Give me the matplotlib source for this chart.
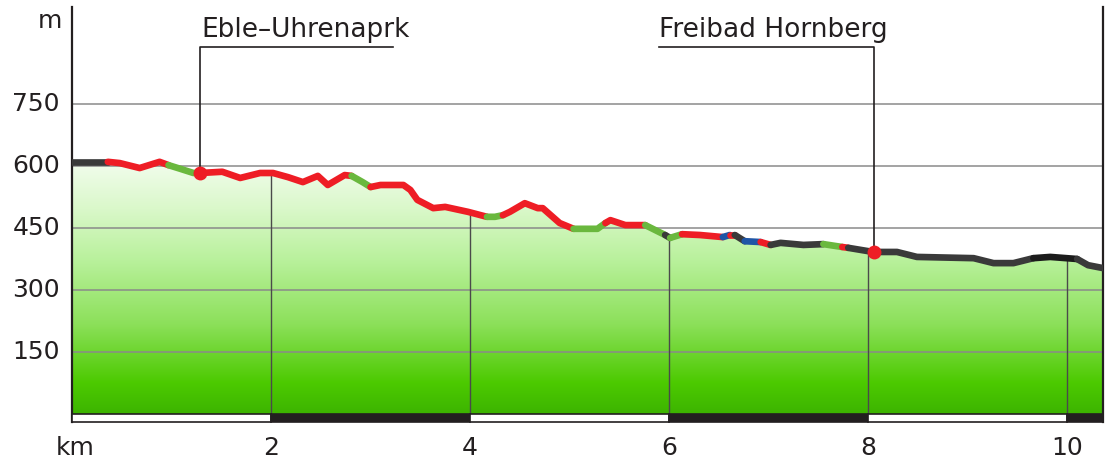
import numpy as np
import matplotlib
matplotlib.use("Agg")
import matplotlib.pyplot as plt
from matplotlib.colors import LinearSegmentedColormap
from matplotlib.patches import Rectangle
import matplotlib.transforms as mtransforms

plt.rcParams['font.family'] = ['DejaVu Sans']

# ---------------- data ----------------
dist_km = [0.00, 0.36, 0.48, 0.68, 0.88, 0.97, 1.09, 1.22, 1.29, 1.51,
           1.69, 1.89, 2.02, 2.17, 2.32, 2.47, 2.57, 2.74, 2.81, 2.92,
           3.00, 3.10, 3.33, 3.40, 3.47, 3.63, 3.75, 3.98, 4.17, 4.25,
           4.33, 4.40, 4.55, 4.68, 4.73, 4.90, 5.04, 5.28, 5.36, 5.41,
           5.56, 5.76, 5.86, 5.96, 6.01, 6.13, 6.31, 6.54, 6.61, 6.66,
           6.76, 6.92, 7.02, 7.12, 7.35, 7.55, 7.74, 7.80, 8.00, 8.06,
           8.29, 8.49, 9.06, 9.26, 9.46, 9.66, 9.83, 10.10, 10.21, 10.36]
elev_m = [610, 610, 607, 595, 610, 602, 593, 583, 583, 586,
          571, 583, 583, 573, 561, 576, 554, 578, 576, 561,
          549, 554, 554, 542, 518, 498, 501, 489, 477, 477,
          481, 489, 510, 498, 498, 462, 448, 448, 462, 469,
          457, 457, 445, 433, 426, 435, 433, 428, 433, 433,
          418, 416, 409, 414, 409, 411, 404, 402, 394, 392,
          392, 380, 377, 365, 365, 377, 380, 375, 360, 353]
# surface type of the segment starting at each point
surface = ['K', 'R', 'R', 'R', 'R', 'G', 'G', 'G', 'R', 'R',
           'R', 'R', 'R', 'R', 'R', 'R', 'R', 'R', 'G', 'G',
           'R', 'R', 'R', 'R', 'R', 'R', 'R', 'R', 'G', 'G',
           'R', 'R', 'R', 'R', 'R', 'R', 'G', 'G', 'R', 'R',
           'R', 'G', 'G', 'K', 'G', 'R', 'R', 'B', 'R', 'K',
           'B', 'R', 'K', 'K', 'K', 'G', 'R', 'K', 'K', 'K',
           'K', 'K', 'K', 'K', 'K', 'D', 'D', 'K', 'K']
surface_colors = {'K': '#3a3a3a', 'D': '#1c1c1c', 'R': '#ee1d25',
                  'G': '#6ab83e', 'B': '#1f55a6'}

y_ticks = [150, 300, 450, 600, 750]
y_tick_labels = ['150', '300', '450', '600', '750']
x_ticks = [2, 4, 6, 8, 10]
x_tick_labels = ['2', '4', '6', '8', '10']

poi_names = ['Eble–Uhrenaprk', 'Freibad Hornberg']
poi_km = [1.29, 8.06]
poi_elev = [583, 392]

# ---------------- figure ----------------
W, H = 1111, 461
fig = plt.figure(figsize=(W / 100, H / 100), dpi=100)
px_left, px_right, px_top, px_bottom = 72, 1103, 6.8, 422.3
ax = fig.add_axes([px_left / W, 1 - px_bottom / H,
                   (px_right - px_left) / W, (px_bottom - px_top) / H])
xmax = dist_km[-1]
ax.set_xlim(0, xmax)
ax.set_ylim(-20, 985)

d = np.array(dist_km)
e = np.array(elev_m)

# gradient fill under the profile
cmap = LinearSegmentedColormap.from_list('g', [
    (0.0, '#3db400'), (0.12, '#4cca00'), (0.35, '#8ce05a'),
    (0.6, '#b9f19c'), (0.8, '#daf8ca'), (1.0, '#f4fdf0')])
poly = ax.fill_between(d, e, 0, color='none', lw=0)
grad = np.linspace(0, 1, 256).reshape(-1, 1)
img = ax.imshow(grad, extent=[0, xmax, 0, 620], origin='lower', cmap=cmap,
                aspect='auto', zorder=1, interpolation='bilinear')
path = poly.get_paths()[0]
img.set_clip_path(path, transform=ax.transData)

# horizontal grid
for yt in y_ticks:
    ax.plot([0, xmax], [yt, yt], color='#8a8a8a', lw=1.1, zorder=2)

# vertical km lines beneath profile
for xt in x_ticks:
    ax.plot([xt, xt], [0, np.interp(xt, d, e)], color='#4a4a4a', lw=1.0, zorder=2)

# profile line, grouped by surface
i = 0
n = len(surface)
while i < n:
    j = i
    while j + 1 < n and surface[j + 1] == surface[i]:
        j += 1
    ax.plot(d[i:j + 2], e[i:j + 2], color=surface_colors[surface[i]], lw=4.8,
            solid_capstyle='round', solid_joinstyle='round', zorder=3)
    i = j + 1

# POI markers and callouts
ax.plot(poi_km, poi_elev, 'o', color='#ee1d25', ms=10, zorder=5, mec='none')
callout_y = 888
text_y = 912
ax.plot([poi_km[0], poi_km[0], 3.23], [poi_elev[0], callout_y, callout_y],
        color='#231f20', lw=1.2, zorder=4, clip_on=False)
ax.text(poi_km[0] + 0.01, text_y, poi_names[0], fontsize=19, color='#231f20',
        ha='left', va='baseline')
ax.plot([poi_km[1], poi_km[1], 5.90], [poi_elev[1], callout_y, callout_y],
        color='#231f20', lw=1.2, zorder=4, clip_on=False)
ax.text(5.90, text_y, poi_names[1], fontsize=19, color='#231f20',
        ha='left', va='baseline')

# bottom distance bar
edges = [0, 2, 4, 6, 8, 10, xmax]
for k in range(len(edges) - 1):
    fc = '#ffffff' if k % 2 == 0 else '#231f20'
    ax.add_patch(Rectangle((edges[k], -19.5), edges[k + 1] - edges[k], 19.5,
                           facecolor=fc, edgecolor='#231f20', lw=1.2, zorder=4,
                           clip_on=False))

# spines
for s in ['top', 'bottom']:
    ax.spines[s].set_visible(False)
for s in ['left', 'right']:
    ax.spines[s].set_color('#231f20')
    ax.spines[s].set_linewidth(1.6)
ax.set_xticks([])
ax.set_yticks([])

# tick labels
ylab_x = (60 - px_left) / (px_right - px_left)
ytr = mtransforms.blended_transform_factory(ax.transAxes, ax.transData)
for yt, lab in zip(y_ticks, y_tick_labels):
    ax.text(ylab_x, yt, lab, transform=ytr, ha='right', va='center',
            fontsize=18, color='#231f20')
ax.text((62 - px_left) / (px_right - px_left), 950, 'm', transform=ytr,
        ha='right', va='center', fontsize=18, color='#231f20')

xlab_y = (px_bottom - 448) / (px_bottom - px_top)
xtr = mtransforms.blended_transform_factory(ax.transData, ax.transAxes)
for xt, lab in zip(x_ticks, x_tick_labels):
    ax.text(xt, xlab_y, lab, transform=xtr, ha='center', va='center',
            fontsize=18, color='#231f20')
ax.text((75 - px_left) / (px_right - px_left), xlab_y, 'km', transform=ax.transAxes,
        ha='center', va='center', fontsize=18, color='#231f20')

fig.savefig('out.png', dpi=100)
